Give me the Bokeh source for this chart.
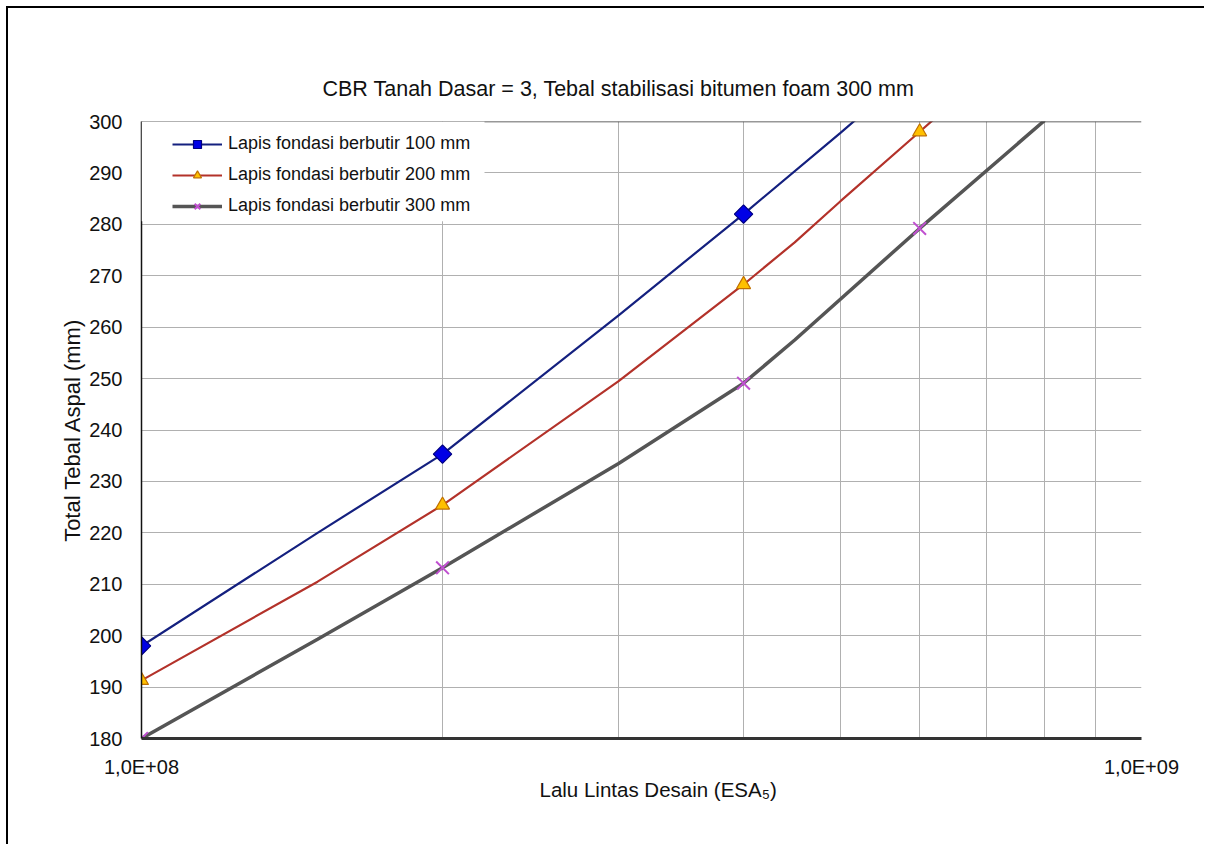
from bokeh.plotting import figure
from bokeh.models import (Range1d, FixedTicker, CustomJSTickFormatter, Legend,
                          LegendItem, Title, Span, BoxAnnotation)
from bokeh.embed import file_html
from bokeh.resources import INLINE

FONT = "Liberation Sans"

# ---------------- data ----------------
title_text = "CBR Tanah Dasar = 3, Tebal stabilisasi bitumen foam 300 mm"
x_label = "Lalu Lintas Desain (ESA\u2085)"
y_label = "Total Tebal Aspal (mm)"

series_names = ["Lapis fondasi berbutir 100 mm",
                "Lapis fondasi berbutir 200 mm",
                "Lapis fondasi berbutir 300 mm"]

x_major = [1e8, 1e9]
x_minor = [2e8, 3e8, 4e8, 5e8, 6e8, 7e8, 8e8, 9e8]
y_ticks = [180, 190, 200, 210, 220, 230, 240, 250, 260, 270, 280, 290, 300]

marker_esa = [1e8, 2e8, 4e8, 6e8]

esa_100 = [1.0e8, 1.5e8, 2.0e8, 3.0e8, 4.0e8, 5.0e8, 6.0e8]
tebal_100 = [198.0, 220.0, 235.3, 262.3, 282.0, 297.8, 311.0]

esa_200 = [1.0e8, 1.5e8, 2.0e8, 3.0e8, 4.0e8, 4.5e8, 5.0e8, 6.0e8, 7.0e8]
tebal_200 = [191.3, 210.5, 225.4, 249.5, 268.3, 276.5, 284.5, 298.0, 309.5]

esa_300 = [1.0e8, 1.5e8, 2.0e8, 3.0e8, 4.0e8, 4.5e8, 6.0e8, 8.0e8]
tebal_300 = [180.0, 199.3, 213.2, 233.5, 249.1, 257.5, 279.2, 300.2]

# ---------------- figure ----------------
p = figure(width=1198, height=838, x_axis_type="log",
           x_range=Range1d(1e8, 1e9), y_range=Range1d(180, 300),
           output_backend="svg", toolbar_location=None,
           min_border_left=133, min_border_right=65,
           min_border_top=113, min_border_bottom=108)
p.styles = {"border-top": "2px solid #000", "border-left": "2px solid #000",
            "margin-top": "6px", "margin-left": "6px"}
p.background_fill_color = "white"
p.border_fill_color = "white"
p.outline_line_color = None

# title (above, shifted to match the reference)
p.title.text = title_text
p.title.align = "left"
p.title.offset = 181
p.title.text_font = FONT
p.title.text_font_size = "21.5px"
p.title.text_font_style = "normal"
p.title.text_color = "#111"
p.title.standoff = 41

# grids
p.xaxis.ticker = FixedTicker(ticks=x_major, minor_ticks=x_minor)
p.yaxis.ticker = FixedTicker(ticks=y_ticks)
p.xgrid.grid_line_color = "#b0b0b0"
p.xgrid.minor_grid_line_color = "#b0b0b0"
p.xgrid.grid_line_width = 1
p.ygrid.grid_line_color = "#b0b0b0"
p.ygrid.grid_line_width = 1

# axes
p.xaxis.formatter = CustomJSTickFormatter(
    code="const e = Math.round(Math.log10(tick)); return '1,0E+' + (e < 10 ? '0' + e : '' + e);")
for ax in (p.xaxis, p.yaxis):
    ax.major_tick_line_color = None
    ax.minor_tick_line_color = None
    ax.major_label_text_font = FONT
    ax.major_label_text_color = "#111"
    ax.axis_label_text_font = FONT
    ax.axis_label_text_font_style = "normal"
    ax.axis_label_text_color = "#111"
p.xaxis.axis_line_color = "#333"
p.xaxis.axis_line_width = 3
p.xaxis.major_label_text_font_size = "20px"
p.xaxis.major_label_standoff = 11
p.yaxis.axis_line_color = "#111"
p.yaxis.axis_line_width = 1.5
p.yaxis.major_label_text_font_size = "20px"
p.yaxis.major_label_standoff = 13
p.yaxis.axis_label = y_label
p.yaxis.axis_label_text_font_size = "22px"
p.yaxis.axis_label_standoff = 1

# x-axis label as a title below, shifted right like the reference
p.add_layout(Title(text=x_label, align="left", offset=398, standoff=-40,
                   text_font=FONT, text_font_size="20.5px",
                   text_font_style="normal", text_color="#111"), "below")

p.add_layout(Span(location=300, dimension="width", line_color="#333", line_width=1.5))

# series
styles = [
    dict(line_color="#14207f", line_width=2.2, marker="square", angle=0.785398,
         size=13, fill_color="#0000e6", m_line="#000080", m_lw=1.2),
    dict(line_color="#b3322a", line_width=2.2, marker="triangle", angle=0.0,
         size=14, fill_color="#ffc000", m_line="#c07000", m_lw=1.2),
    dict(line_color="#555555", line_width=3.5, marker="x", angle=0.0,
         size=18, fill_color=None, m_line="#c050d0", m_lw=2),
]
data = [(esa_100, tebal_100), (esa_200, tebal_200), (esa_300, tebal_300)]

items = []
for name, (xs, ys), st in zip(series_names, data, styles):
    lr = p.line(xs, ys, line_color=st["line_color"], line_width=st["line_width"])
    mx = [x for x in xs if x in marker_esa]
    my = [y for x, y in zip(xs, ys) if x in marker_esa]
    sr = p.scatter(mx, my, marker=st["marker"], size=st["size"], angle=st["angle"],
                   fill_color=st["fill_color"], line_color=st["m_line"],
                   line_width=st["m_lw"])
    items.append(LegendItem(label=name, renderers=[lr, sr]))

# white area behind legend
p.add_layout(BoxAnnotation(left=1e8, right=10 ** 8.343, bottom=280.6, top=300,
                           fill_color="white", fill_alpha=1.0, line_color=None))

legend = Legend(items=items, location=(31, 522), padding=10, margin=0,
                spacing=10, glyph_width=50, glyph_height=20, label_height=20,
                label_standoff=6, label_text_font=FONT,
                label_text_font_size="18px", label_text_color="#111",
                background_fill_color="white", background_fill_alpha=1.0,
                border_line_color=None)
p.add_layout(legend)

open("out.html", "w").write(file_html(p, INLINE))
